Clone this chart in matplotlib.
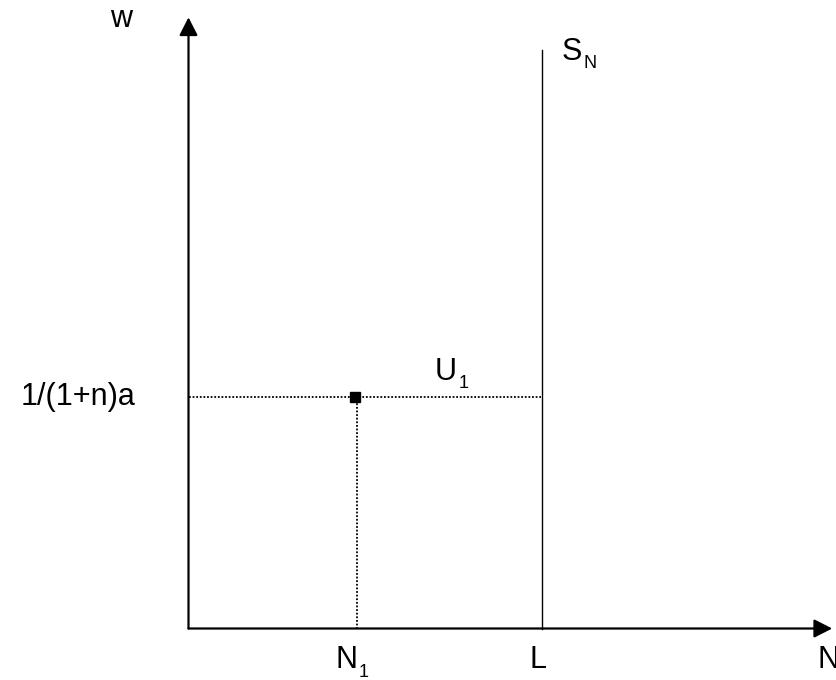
"""
Labour supply diagram: vertical S_N at L, point U_1 at (N_1, 1/(1+n)a).
"""

import matplotlib
matplotlib.use("Agg")
import matplotlib.pyplot as plt

plt.rcParams["font.family"] = ["Liberation Sans", "DejaVu Sans"]

# ── Diagram values (in axis units) ────────────────────────────────────────────
N1_VAL   = 1.0     # employment at point U_1
L_VAL    = 2.1     # labour force (vertical supply)
W1_VAL   = 1.0     # wage 1/(1+n)a
SN_TOP   = 2.5     # top of the S_N line
X_MAX    = 3.82
Y_MAX    = 2.64

w_label  = "1/(1+n)a"

PX = 72 / 100   # pixels -> points at dpi 100
FS, FS_SUB = 22, 13

fig = plt.figure(figsize=(8.36, 6.8), dpi=100)
ax = fig.add_axes([188.5 / 836, 51.5 / 680, 643.7 / 836, 611.2 / 680])
ax.set_xlim(0, X_MAX)
ax.set_ylim(0, Y_MAX)
ax.axis("off")


def label(text, xy, dx, dy, size=FS, ha="left", va="baseline"):
    """Place text at a data point, shifted by (dx, dy) pixels."""
    ax.annotate(text, xy=xy, xytext=(dx * PX, dy * PX), textcoords="offset points",
                ha=ha, va=va, fontsize=size, annotation_clip=False)


# axes with arrow heads
arrow = dict(arrowstyle="-|>,head_length=0.55,head_width=0.28", color="black",
             lw=1.6, mutation_scale=20, shrinkA=0, shrinkB=0)
ax.annotate("", xy=(X_MAX, 0), xytext=(0, 0), arrowprops=arrow, annotation_clip=False)
ax.annotate("", xy=(0, Y_MAX), xytext=(0, 0), arrowprops=arrow, annotation_clip=False)

# vertical supply S_N at L
ax.plot([L_VAL, L_VAL], [0, SN_TOP], color="black", lw=1.0, clip_on=False)

# dotted guides to U_1
dots = dict(color="black", lw=1.3, linestyle=(0, (1, 1)), clip_on=False)
ax.plot([0, L_VAL - 0.01], [W1_VAL, W1_VAL], **dots)
ax.plot([N1_VAL, N1_VAL], [0, W1_VAL], **dots)
ax.plot([N1_VAL - 0.01], [W1_VAL], marker="s", color="black", markersize=7, clip_on=False)

# x-axis labels
label("N", (N1_VAL, 0), -21.5, -39.5)
label("1", (N1_VAL, 0), 2, -48.5, size=FS_SUB)
label("L", (L_VAL, 0), -13, -39.5)
label("N", (X_MAX, 0), -14.5, -39.5)

# y-axis labels
label("w", (0, Y_MAX), -67.5, -9.7, ha="center")
label(w_label, (0, W1_VAL), -53, 0, ha="right", va="center")

# curve / point labels
label("S", (L_VAL, SN_TOP), 19, -10)
label("N", (L_VAL, SN_TOP), 41, -18, size=FS_SUB)
label("U", (L_VAL, W1_VAL), -108, 17)
label("1", (L_VAL, W1_VAL), -84, 9, size=FS_SUB)

fig.savefig("out.png", dpi=100)
